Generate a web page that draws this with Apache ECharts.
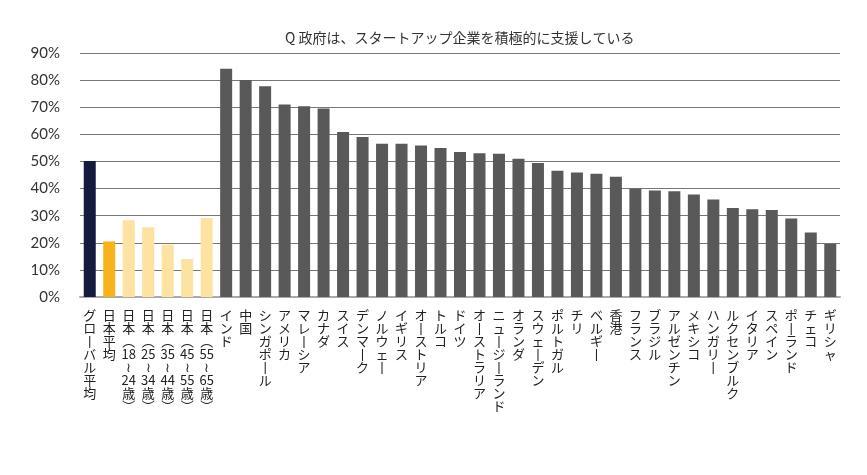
<!DOCTYPE html>
<html>
<head>
<meta charset="utf-8">
<script src="https://cdn.jsdelivr.net/npm/echarts@6/dist/echarts.min.js"></script>
<style>
  html, body { margin: 0; padding: 0; background: #fff; }
  #barChart { width: 867px; height: 475px; }
</style>
</head>
<body>
<div id="barChart"></div>
<script>
// 回答率（%）
const categories = [
  'グローバル平均', '日本平均',
  '日本（18～24歳）', '日本（25～34歳）', '日本（35～44歳）', '日本（45～55歳）', '日本（55～65歳）',
  'インド', '中国', 'シンガポール', 'アメリカ', 'マレーシア', 'カナダ', 'スイス', 'デンマーク',
  'ノルウェー', 'イギリス', 'オーストリア', 'トルコ', 'ドイツ', 'オーストラリア', 'ニュージーランド',
  'オランダ', 'スウェーデン', 'ポルトガル', 'チリ', 'ベルギー', '香港', 'フランス', 'ブラジル',
  'アルゼンチン', 'メキシコ', 'ハンガリー', 'ルクセンブルク', 'イタリア', 'スペイン', 'ポーランド',
  'チェコ', 'ギリシャ'
]
const values = [
  50.2, 20.5,
  28.3, 25.7, 19.3, 14.0, 29.1,
  84.2, 80.0, 77.7, 71.0, 70.4, 69.5, 60.9, 59.0,
  56.5, 56.5, 55.9, 55.0, 53.5, 53.0, 52.8,
  51.0, 49.4, 46.6, 45.9, 45.5, 44.4, 39.9, 39.3,
  39.0, 37.8, 36.0, 32.8, 32.4, 32.1, 29.0,
  23.8, 19.6
]
// global / japan / age / country
const groups = [
  'global', 'japan',
  'age', 'age', 'age', 'age', 'age'
].concat(new Array(32).fill('country'))
const yTicks = [0, 10, 20, 30, 40, 50, 60, 70, 80, 90]

const groupColor = {
  global: '#141b3d',
  japan: '#f8b31c',
  age: '#fde2a2',
  country: '#595959'
}

// 縦書き用に1文字ずつ改行（数字はまとめて横に）
function toVertical(name) {
  const map = { 'ー': '丨', '（': '︵', '）': '︶', '～': '≀' }
  const tokens = name.match(/[0-9]+|./g) || []
  return tokens.map(t => map[t] || t).join('\n')
}

const barChart = echarts.init(document.getElementById('barChart'))
barChart.setOption({
  animation: false,
  title: {
    text: 'Q 政府は、スタートアップ企業を積極的に支援している',
    left: 280,
    top: 26,
    textStyle: {
      fontFamily: 'Noto Sans CJK JP',
      fontSize: 14,
      fontWeight: 'normal',
      color: '#333'
    }
  },
  grid: {
    left: 80,
    right: 27,
    top: 53,
    bottom: 178
  },
  xAxis: {
    type: 'category',
    data: categories,
    axisTick: { show: false },
    axisLine: {
      lineStyle: { color: '#aaa', width: 2 }
    },
    axisLabel: {
      interval: 0,
      margin: 12,
      fontFamily: 'Noto Sans CJK JP',
      fontSize: 13,
      lineHeight: 13,
      color: '#222',
      formatter: name => toVertical(name)
    }
  },
  yAxis: {
    type: 'value',
    min: yTicks[0],
    max: yTicks[yTicks.length - 1],
    interval: 10,
    axisLine: { show: false },
    axisTick: { show: false },
    splitLine: {
      lineStyle: { color: '#777', width: 1 }
    },
    axisLabel: {
      margin: 20,
      fontFamily: 'Lato',
      fontSize: 15,
      color: '#333',
      formatter: '{value}%'
    }
  },
  series: [
    {
      type: 'bar',
      barWidth: 12,
      data: values.map((v, i) => ({
        value: v,
        itemStyle: { color: groupColor[groups[i]] }
      }))
    }
  ]
})
</script>
</body>
</html>
